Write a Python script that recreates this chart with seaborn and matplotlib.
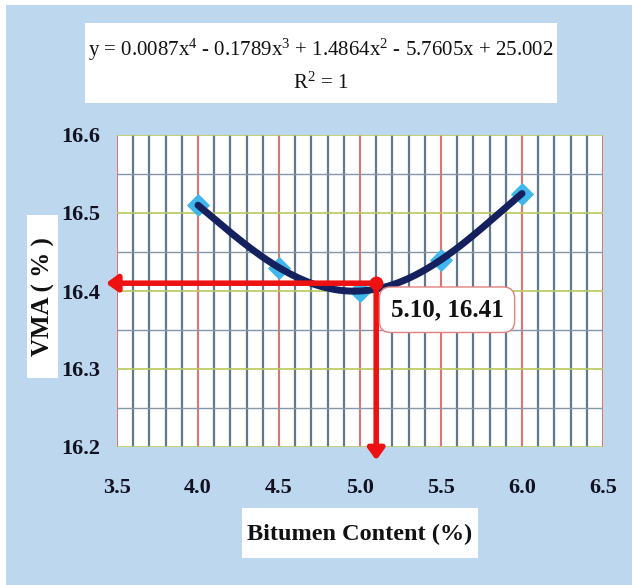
import numpy as np
import matplotlib
matplotlib.use("Agg")
import matplotlib.pyplot as plt
import seaborn as sns
from matplotlib.patches import Rectangle
from matplotlib.ticker import FixedLocator, MultipleLocator

# Mix data: bitumen content (%) vs voids in mineral aggregate (%)
bitumen = [4.0, 4.5, 5.0, 5.5, 6.0]
vma = [16.51, 16.43, 16.40, 16.44, 16.525]

x_ticks = [3.5, 4.0, 4.5, 5.0, 5.5, 6.0, 6.5]
y_ticks = [16.2, 16.3, 16.4, 16.5, 16.6]

# Optimum
opt_x, opt_y = 5.10, 16.41

equation = "y = 0.0087x$^{4}$ - 0.1789x$^{3}$ + 1.4864x$^{2}$ - 5.7605x + 25.002"
r2_text = "R$^{2}$ = 1"
x_title = "Bitumen Content (%)"
y_title = "VMA ( % )"

sns.set_theme(style="white")
plt.rcParams["font.family"] = ["Liberation Serif", "DejaVu Serif"]
plt.rcParams["mathtext.fontset"] = "custom"
plt.rcParams["mathtext.rm"] = "Liberation Serif"
plt.rcParams["mathtext.it"] = "Liberation Serif:italic"
plt.rcParams["mathtext.bf"] = "Liberation Serif:bold"

W, H = 632, 585
fig = plt.figure(figsize=(W / 100, H / 100), dpi=100)
fig.patch.set_facecolor("white")


def fx(px):
    return px / W


def fy(py):
    return 1 - py / H


def fig_box(x0, y0, x1, y1, **kw):
    fig.add_artist(Rectangle((fx(x0), fy(y1)), fx(x1) - fx(x0), fy(y0) - fy(y1),
                             transform=fig.transFigure, **kw))


# light blue chart area
fig_box(6, 5, W, H, facecolor="#bdd7ee", edgecolor="none", zorder=-10)

ax = fig.add_axes([fx(117), fy(447), fx(603) - fx(117), fy(135) - fy(447)])
ax.set_facecolor("white")
ax.set_xlim(x_ticks[0], x_ticks[-1])
ax.set_ylim(y_ticks[0], y_ticks[-1])

ax.xaxis.set_major_locator(FixedLocator(x_ticks))
ax.yaxis.set_major_locator(FixedLocator(y_ticks))
ax.xaxis.set_minor_locator(MultipleLocator(0.1))
ax.yaxis.set_minor_locator(MultipleLocator(0.05))

ax.set_axisbelow(True)
ax.grid(which="major", axis="x", color="#e07474", lw=1.5)
ax.grid(which="minor", axis="x", color="#62788c", lw=1.6)
ax.grid(which="major", axis="y", color="#b9c95a", lw=1.2)
ax.grid(which="minor", axis="y", color="#8596a8", lw=1.0)
for s in ax.spines.values():
    s.set_visible(False)

ax.set_xticklabels([f"{v:.1f}" for v in x_ticks], fontweight="bold", fontsize=16, color="#111122")
ax.set_yticklabels([f"{v:.1f}" for v in y_ticks], fontweight="bold", fontsize=16, color="#111122")
ax.tick_params(axis="x", which="both", length=0, pad=22)
ax.tick_params(axis="y", which="both", length=0, pad=12)

# 4th-order trend line through the measured points
coef = np.polyfit(bitumen, vma, 4)
xs = np.linspace(bitumen[0], bitumen[-1], 200)
ys = np.polyval(coef, xs)

sns.scatterplot(x=bitumen, y=vma, marker="D", s=140, color="#3fb7ea",
                edgecolor="#3fb7ea", linewidth=0, ax=ax, zorder=3)
sns.lineplot(x=xs, y=ys, color="#14215e", lw=5, ax=ax, zorder=4)

# Arrows from the optimum to both axes
arrow = dict(arrowstyle="-|>,head_length=0.55,head_width=0.4", color="#ee1111",
             lw=4, shrinkA=0, shrinkB=0)
ax.annotate("", xy=(3.432, opt_y), xytext=(opt_x, opt_y), arrowprops=arrow,
            annotation_clip=False, zorder=5)
ax.annotate("", xy=(opt_x, 16.183), xytext=(opt_x, opt_y), arrowprops=arrow,
            annotation_clip=False, zorder=5)
ax.plot([opt_x], [opt_y], "o", color="#ee1111", ms=9, zorder=6)

ax.text(5.537, 16.376, f"{opt_x:.2f}, {opt_y:.2f}", ha="center", va="center",
        fontsize=18, fontweight="bold", color="#111111", zorder=7,
        bbox=dict(boxstyle="round,pad=0.45", fc="white", ec="#e08080", lw=1))

# Equation box
fig_box(85, 23, 557, 103, facecolor="white", edgecolor="none")
fig.text(fx(321), fy(50), equation, ha="center", va="center", fontsize=15, color="#111111")
fig.text(fx(321), fy(83), r2_text, ha="center", va="center", fontsize=15, color="#111111")

# Axis titles on white boxes
fig_box(27, 215, 58, 378, facecolor="white", edgecolor="none")
fig.text(fx(43), fy(297), y_title, rotation=90, ha="center", va="center",
         fontsize=18, fontweight="bold", color="#111111")
fig_box(242, 508, 478, 558, facecolor="white", edgecolor="none")
fig.text(fx(360), fy(534), x_title, ha="center", va="center",
         fontsize=17.5, fontweight="bold", color="#111111")

fig.savefig("out.png", dpi=100)
